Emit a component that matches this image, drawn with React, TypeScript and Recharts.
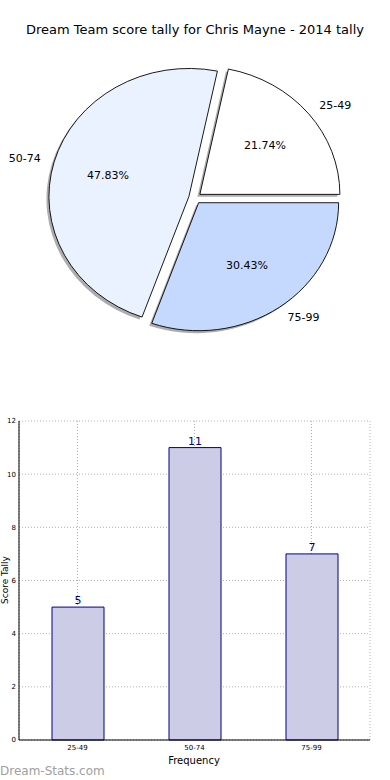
import React from 'react';
import { PieChart, Pie, BarChart, Bar, XAxis, YAxis, CartesianGrid, LabelList } from 'recharts';

const categories = ['25-49', '50-74', '75-99'];
const tallies = [5, 11, 7];
const sliceColors = ['#ffffff', '#eaf1ff', '#c5d9ff'];
const yTicks = [0, 2, 4, 6, 8, 10, 12];

const data = categories.map((c, i) => ({ cat: c, value: tallies[i] }));

const FONT = '"DejaVu Sans", sans-serif';
const K = 128 / 140; // ellipse y/x ratio
const EXPLODE = 0.045;
const RAD = Math.PI / 180;

function wedgePath(p: any, sx: number, sy: number) {
  const { cx, cy, outerRadius, startAngle, endAngle } = p;
  const rx = outerRadius;
  const ry = outerRadius * K;
  const mid = ((startAngle + endAngle) / 2) * RAD;
  const ox = cx + EXPLODE * rx * Math.cos(mid) + sx;
  const oy = cy - EXPLODE * ry * Math.sin(mid) + sy;
  const a0 = startAngle * RAD;
  const a1 = endAngle * RAD;
  const x0 = ox + rx * Math.cos(a0);
  const y0 = oy - ry * Math.sin(a0);
  const x1 = ox + rx * Math.cos(a1);
  const y1 = oy - ry * Math.sin(a1);
  const large = Math.abs(endAngle - startAngle) > 180 ? 1 : 0;
  return `M${ox},${oy} L${x0},${y0} A${rx},${ry} 0 ${large} 0 ${x1},${y1} Z`;
}

const mainShape = (p: any) => (
  <path d={wedgePath(p, 0, 0)} fill={sliceColors[p.index ?? 0] ?? p.fill} stroke="#000" strokeWidth={0.9} />
);
const shadowShape = (p: any) => (
  <path d={wedgePath(p, -2.5, 2.5)} fill="#8a8a8a" fillOpacity={0.7} stroke="none" />
);

const renderLabel = (p: any) => {
  const { cx, cy, outerRadius, midAngle, percent, name } = p;
  const rx = outerRadius;
  const ry = outerRadius * K;
  const m = midAngle * RAD;
  const ox = cx + EXPLODE * rx * Math.cos(m);
  const oy = cy - EXPLODE * ry * Math.sin(m);
  const lx = ox + 1.1 * rx * Math.cos(m);
  const ly = oy - 1.1 * ry * Math.sin(m);
  const px = ox + 0.6 * rx * Math.cos(m);
  const py = oy - 0.6 * ry * Math.sin(m);
  return (
    <g>
      <text x={lx} y={ly} textAnchor={Math.cos(m) >= 0 ? 'start' : 'end'} dominantBaseline="central" fontSize={11} fontFamily={FONT} fill="#000">
        {name}
      </text>
      <text x={px} y={py} textAnchor="middle" dominantBaseline="central" fontSize={11} fontFamily={FONT} fill="#000">
        {(percent * 100).toFixed(2)}%
      </text>
    </g>
  );
};

export default function App() {
  return (
    <div style={{ position: 'absolute', left: 0, top: 0, width: 390, height: 780, background: '#fff', overflow: 'hidden', fontFamily: FONT }}>
      <div style={{ position: 'absolute', left: 0, top: 22, width: 390, textAlign: 'center', fontSize: 13, color: '#000', lineHeight: '16px' }}>
        Dream Team score tally for Chris Mayne - 2014 tally
      </div>
      <div style={{ position: 'absolute', left: 0, top: 0 }}>
        <PieChart width={390} height={400} margin={{ top: 0, right: 0, bottom: 0, left: 0 }}>
          <Pie
            data={data}
            dataKey="value"
            nameKey="cat"
            cx={195}
            cy={198}
            outerRadius={140}
            startAngle={0}
            endAngle={360}
            isAnimationActive={false}
            shape={shadowShape}
            activeShape={shadowShape}
            inactiveShape={shadowShape}
            label={false}
            labelLine={false}
            stroke="none"
          />
          <Pie
            data={data}
            dataKey="value"
            nameKey="cat"
            cx={195}
            cy={198}
            outerRadius={140}
            startAngle={0}
            endAngle={360}
            isAnimationActive={false}
            shape={mainShape}
            activeShape={mainShape}
            inactiveShape={mainShape}
            label={renderLabel}
            labelLine={false}
          />
        </PieChart>
      </div>
      <div style={{ position: 'absolute', left: 0, top: 400 }}>
        <BarChart width={390} height={380} data={data} margin={{ top: 21, right: 20, bottom: 0, left: 0 }}>
          <CartesianGrid stroke="#b0b0b0" strokeDasharray="1 2" />
          <XAxis
            dataKey="cat"
            height={40}
            tickLine={false}
            tickSize={0}
            tickMargin={5}
            axisLine={{ stroke: '#000', strokeWidth: 1 }}
            tick={{ fontSize: 7, fill: '#000', fontFamily: FONT }}
            interval={0}
          />
          <XAxis xAxisId="top" dataKey="cat" orientation="top" height={0} tick={false} tickLine={false} axisLine={{ stroke: '#000', strokeWidth: 1 }} />
          <YAxis
            width={19}
            domain={[0, 12]}
            ticks={yTicks}
            tickLine={false}
            tickSize={0}
            tickMargin={3}
            axisLine={{ stroke: '#000', strokeWidth: 1 }}
            tick={{ fontSize: 7, fill: '#000', fontFamily: FONT }}
          />
          <YAxis yAxisId="right" orientation="right" width={0} domain={[0, 12]} tick={false} tickLine={false} axisLine={{ stroke: '#000', strokeWidth: 1 }} />
          <Bar dataKey="value" barSize={52} fill="#cccce6" stroke="#000080" strokeWidth={1} isAnimationActive={false}>
            <LabelList dataKey="value" position="top" offset={3} fill="#000080" fontSize={11} fontFamily={FONT} />
          </Bar>
        </BarChart>
      </div>
      <div style={{ position: 'absolute', left: 0, top: 754, width: 390, textAlign: 'center', fontSize: 10, lineHeight: '14px', color: '#000' }}>
        <span style={{ position: 'relative', left: -1 }}>Frequency</span>
      </div>
      <div style={{ position: 'absolute', left: 0, top: 763, fontSize: 12, lineHeight: '16px', color: '#a0a0a0' }}>
        Dream-Stats.com
      </div>
      <div style={{ position: 'absolute', left: 5, top: 580, width: 0, height: 0 }}>
        <div style={{ position: 'absolute', left: -40, top: -7, width: 80, textAlign: 'center', fontSize: 9, lineHeight: '14px', transform: 'rotate(-90deg)', color: '#000' }}>
          Score Tally
        </div>
      </div>
    </div>
  );
}
